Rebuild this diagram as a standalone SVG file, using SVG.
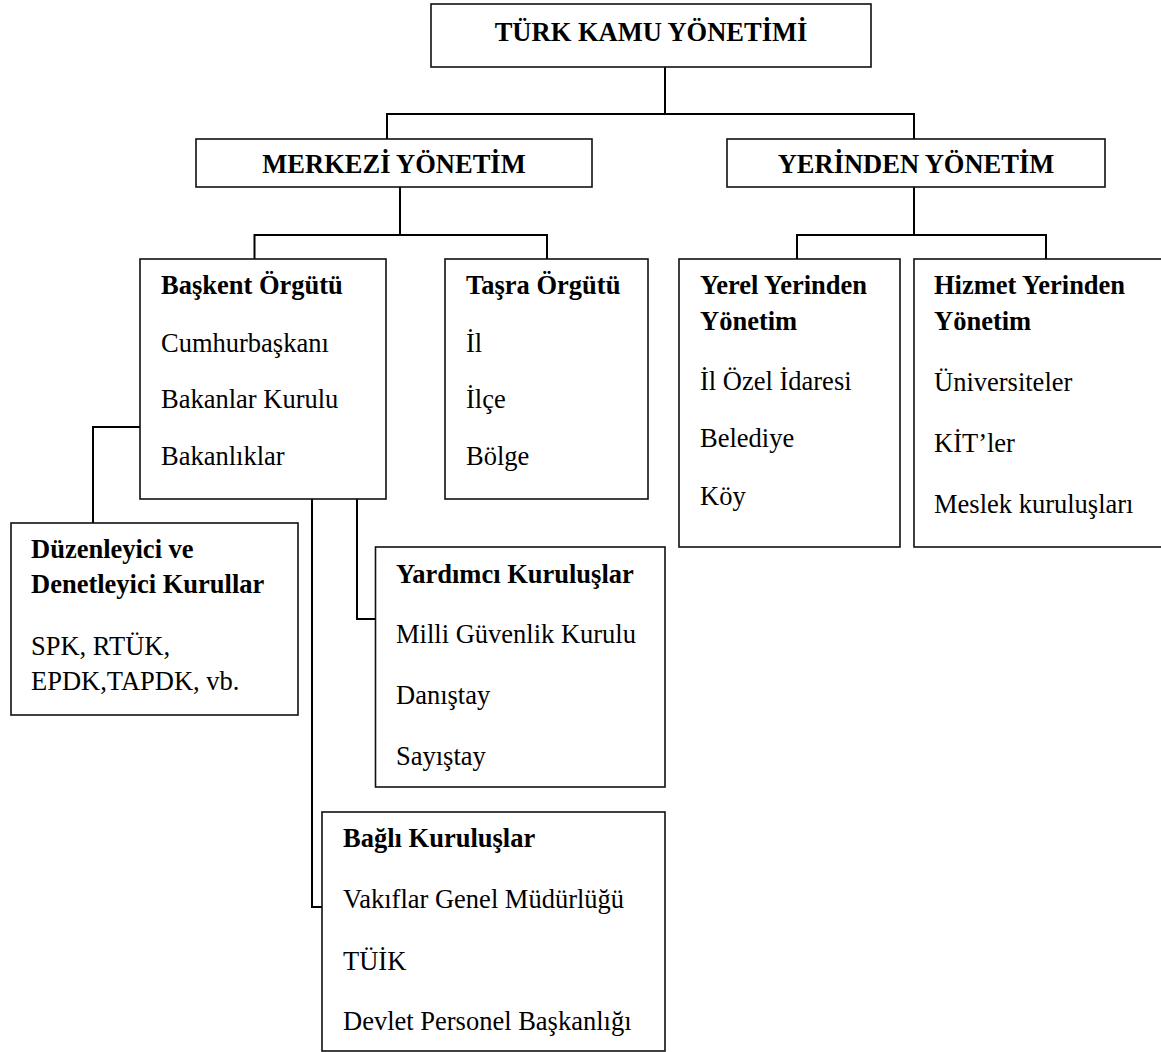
<svg xmlns="http://www.w3.org/2000/svg" width="1161" height="1052" viewBox="0 0 1161 1052">
<style>
.box{fill:#fff;stroke:#111;stroke-width:1.6}
.con{fill:none;stroke:#000;stroke-width:2}
text{font-family:"Liberation Serif","Times New Roman",serif;font-size:26.5px;fill:#000}
.b{font-weight:bold}
.c{text-anchor:middle}
</style>
<rect x="0" y="0" width="1161" height="1052" fill="#fff"/>
<g id="connectors">
<path class="con" d="M665,67 V114 M387,139 V114 H914 V139"/>
<path class="con" d="M400,187 V235 M254.5,259 V235 H547 V259"/>
<path class="con" d="M914,187 V235 M797,259 V235 H1046 V259"/>
<path class="con" d="M140,427 H93 V523"/>
<path class="con" d="M312,499 V907 H322"/>
<path class="con" d="M357,499 V619 H375.5"/>
</g>
<g id="turk-kamu">
<rect class="box" x="431" y="4" width="440" height="63"/>
<text class="b c" x="651" y="41">TÜRK KAMU YÖNETİMİ</text>
</g>
<g id="merkezi">
<rect class="box" x="196" y="139" width="396" height="48"/>
<text class="b c" x="394" y="173">MERKEZİ YÖNETİM</text>
</g>
<g id="yerinden">
<rect class="box" x="727" y="139" width="378" height="48"/>
<text class="b c" x="916" y="173">YERİNDEN YÖNETİM</text>
</g>
<g id="baskent">
<rect class="box" x="140" y="259" width="246" height="240"/>
<text class="b" x="161" y="294">Başkent Örgütü</text>
<text x="161" y="352">Cumhurbaşkanı</text>
<text x="161" y="408">Bakanlar Kurulu</text>
<text x="161" y="465">Bakanlıklar</text>
</g>
<g id="tasra">
<rect class="box" x="445" y="259" width="203" height="240"/>
<text class="b" x="466" y="294">Taşra Örgütü</text>
<text x="466" y="352">İl</text>
<text x="466" y="408">İlçe</text>
<text x="466" y="465">Bölge</text>
</g>
<g id="yerel">
<rect class="box" x="679" y="259" width="221" height="288"/>
<text class="b" x="700" y="294">Yerel Yerinden</text>
<text class="b" x="700" y="330">Yönetim</text>
<text x="700" y="390">İl Özel İdaresi</text>
<text x="700" y="447">Belediye</text>
<text x="700" y="505">Köy</text>
</g>
<g id="hizmet">
<rect class="box" x="914" y="259" width="260" height="288"/>
<text class="b" x="934" y="294">Hizmet Yerinden</text>
<text class="b" x="934" y="330">Yönetim</text>
<text x="934" y="391">Üniversiteler</text>
<text x="934" y="452">KİT’ler</text>
<text x="934" y="513">Meslek kuruluşları</text>
</g>
<g id="duzenleyici">
<rect class="box" x="11" y="523" width="287" height="192"/>
<text class="b" x="31" y="558">Düzenleyici ve</text>
<text class="b" x="31" y="593">Denetleyici Kurullar</text>
<text x="31" y="655">SPK, RTÜK,</text>
<text x="31" y="690">EPDK,TAPDK, vb.</text>
</g>
<g id="yardimci">
<rect class="box" x="375.5" y="547" width="289.5" height="240"/>
<text class="b" x="396" y="583">Yardımcı Kuruluşlar</text>
<text x="396" y="643">Milli Güvenlik Kurulu</text>
<text x="396" y="704">Danıştay</text>
<text x="396" y="765">Sayıştay</text>
</g>
<g id="bagli">
<rect class="box" x="322" y="812" width="343" height="239"/>
<text class="b" x="343" y="847">Bağlı Kuruluşlar</text>
<text x="343" y="908">Vakıflar Genel Müdürlüğü</text>
<text x="343" y="970">TÜİK</text>
<text x="343" y="1030">Devlet Personel Başkanlığı</text>
</g>
</svg>
